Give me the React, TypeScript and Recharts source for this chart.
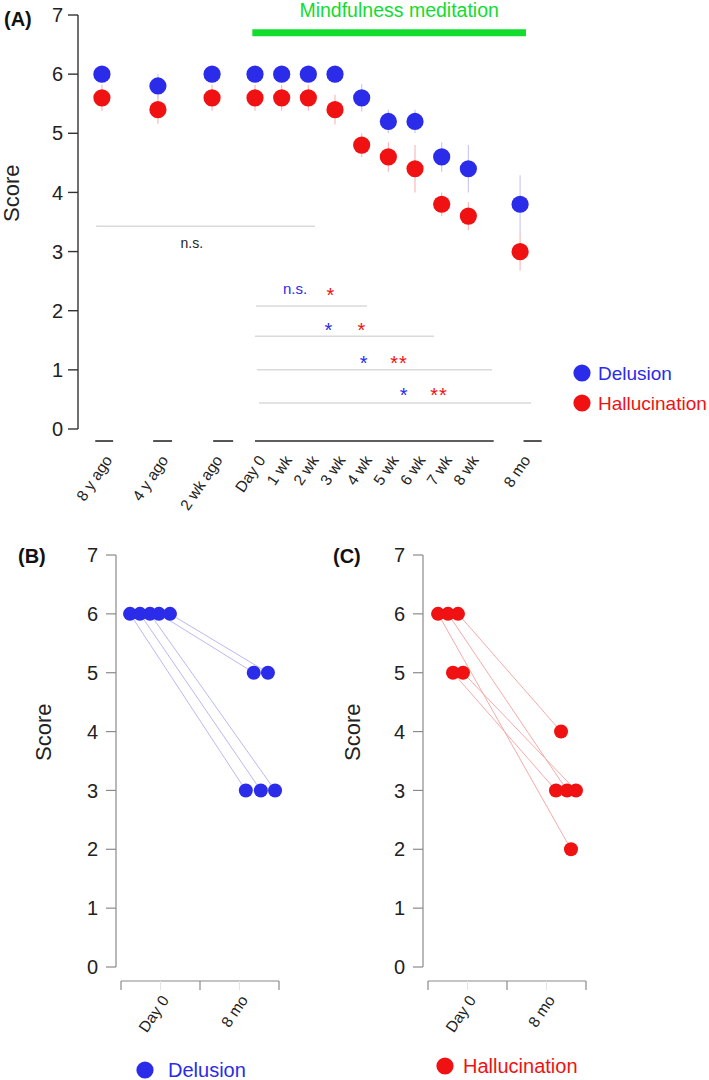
import React from 'react';
import { ScatterChart, Scatter, XAxis, YAxis, ReferenceLine, ErrorBar, Legend } from 'recharts';

const FONT = '"Liberation Sans", Arial, Helvetica, sans-serif';
const BLUE = '#2b2bea';
const RED = '#f01212';
const GREEN = '#12dc2e';
const BLUE_LIGHT = '#cacaf6';
const RED_LIGHT = '#f7bcbc';
const BLUE_LINK = '#b9b9f0';
const RED_LINK = '#f6aaaa';
const SIG_GRAY = '#dadada';
const INK = '#222222';

// ---------- Panel A data ----------
const TIMEPOINTS = ['8 y ago', '4 y ago', '2 wk ago', 'Day 0', '1 wk', '2 wk', '3 wk', '4 wk', '5 wk', '6 wk', '7 wk', '8 wk', '8 mo'];
const DELUSION_MEAN = [6, 5.8, 6, 6, 6, 6, 6, 5.6, 5.2, 5.2, 4.6, 4.4, 3.8];
const DELUSION_SE = [0, 0.2, 0, 0, 0, 0, 0, 0.23, 0.2, 0.2, 0.25, 0.4, 0.49];
const HALLUC_MEAN = [5.6, 5.4, 5.6, 5.6, 5.6, 5.6, 5.4, 4.8, 4.6, 4.4, 3.8, 3.6, 3.0];
const HALLUC_SE = [0.22, 0.24, 0.22, 0.22, 0.22, 0.22, 0.25, 0.2, 0.25, 0.4, 0.2, 0.24, 0.32];
const SCORE_TICKS = [0, 1, 2, 3, 4, 5, 6, 7];
const SERIES_NAMES = ['Delusion', 'Hallucination'];
const INTERVENTION_LABEL = 'Mindfulness meditation';

// significance brackets (Day 0 vs later time points)
const SIG_LEVEL = [2.08, 1.57, 1.0, 0.44];
const SIG_END = [4.2, 6.71, 8.89, 10.35];
const SIG_START = [0.04, 0, 0.07, 0.15];
const SIG_DELUSION = ['n.s.', '*', '*', '*'];
const SIG_HALLUC = ['*', '*', '**', '**'];
const SIG_DEL_X = [1.5, 2.77, 4.09, 5.59];
const SIG_HAL_X = [2.85, 4.01, 5.4, 6.9];
const SIG_TEXT_Y = [2.35, 1.76, 1.2, 0.66];
const PRE_NS = { from: -5.96, to: 2.25, level: 3.43, textX: -2.37, textY: 3.13, text: 'n.s.' };

// layout of the broken time axis (slot units, 1 = one week spacing)
const TIME_SLOTS = [-5.74, -3.64, -1.61, 0, 1, 2, 3, 4, 5, 6, 7, 8, 9.94];
const AXIS_PIECES = [[-5.99, -5.32], [-3.82, -3.11], [-1.57, -0.82], [0, 8.95], [10.07, 10.75]];
const MEDITATION_SPAN = [-0.1, 10.16];
const MEDITATION_LEVEL = 6.7;

// ---------- Panel B / C data (individual patients) ----------
const PAIR_LABELS = ['Day 0', '8 mo'];
const DEL_DAY0 = [6, 6, 6, 6, 6];
const DEL_8MO = [3, 3, 3, 5, 5];
const HAL_DAY0 = [6, 6, 6, 5, 5];
const HAL_8MO = [2, 3, 4, 3, 3];
// horizontal jitter of each patient's dot within its group
const DEL_JIT0 = [0.114, 0.24, 0.367, 0.48, 0.62];
const DEL_JIT8 = [1.58, 1.77, 1.95, 1.68, 1.86];
const HAL_JIT0 = [0.127, 0.253, 0.38, 0.316, 0.443];
const HAL_JIT8 = [1.81, 1.76, 1.684, 1.62, 1.873];

const delusionA = TIMEPOINTS.map((t, i) => ({ x: TIME_SLOTS[i], y: DELUSION_MEAN[i], err: DELUSION_SE[i], t }));
const hallucA = TIMEPOINTS.map((t, i) => ({ x: TIME_SLOTS[i], y: HALLUC_MEAN[i], err: HALLUC_SE[i], t }));

const notesA = [
  { x: PRE_NS.textX, y: PRE_NS.textY, text: PRE_NS.text, color: INK, kind: 'ns', size: 14 },
  ...SIG_DELUSION.map((s, i) => ({ x: SIG_DEL_X[i], y: SIG_TEXT_Y[i], text: s, color: BLUE, kind: s === 'n.s.' ? 'ns' : 'star', size: s === 'n.s.' ? 15 : 20 })),
  ...SIG_HALLUC.map((s, i) => ({ x: SIG_HAL_X[i], y: SIG_TEXT_Y[i], text: s, color: RED, kind: 'star', size: 20 })),
];

const renderDot = (color: string, r: number) => (props: any) => {
  const { cx, cy } = props;
  if (cx == null || cy == null) return <g />;
  return <circle cx={cx} cy={cy} r={r} fill={color} />;
};
const renderNothing = () => <g />;

const renderNote = (props: any) => {
  const d = props.payload ?? props;
  const fs = d.size;
  const k = d.kind === 'star' ? 0.58 : 0.27;
  return (
    <text x={props.cx} y={props.cy + k * fs} textAnchor="middle" fontSize={fs} fill={d.color} fontFamily={FONT} letterSpacing={d.kind === 'star' ? 1 : 0}>
      {d.text}
    </text>
  );
};

const nearestIndex = (arr: number[], v: number) => {
  let best = 0;
  arr.forEach((a, i) => {
    if (Math.abs(a - v) < Math.abs(arr[best] - v)) best = i;
  });
  return best;
};

const rotLabel = (x: number, y: number, text: string, key?: any) => (
  <text key={key} x={x} y={y} transform={`rotate(-56 ${x} ${y})`} textAnchor="end" fontSize={15.5} fill={INK} fontFamily={FONT}>
    {text}
  </text>
);

const renderTickA = (props: any) => {
  const i = nearestIndex(TIME_SLOTS, props.payload.value);
  return rotLabel(props.x + 11, 460, TIMEPOINTS[i]);
};

const PAIR_TICKS = [0.5, 1.5];
const renderTickPair = (props: any) => {
  const i = nearestIndex(PAIR_TICKS, props.payload.value);
  return rotLabel(props.x + 9, 480, PAIR_LABELS[i]);
};

const makeLegend = (names: string[], colors: string[], textX: number, fontSize: number) => () => (
  <svg width={150} height={names.length * 30 + 4} style={{ display: 'block', overflow: 'visible' }}>
    {names.map((n, i) => (
      <g key={n}>
        <circle cx={12} cy={13 + i * 30} r={8.6} fill={colors[i]} />
        <text x={textX} y={13 + i * 30 + 0.36 * fontSize} fontSize={fontSize} fill={colors[i]} fontFamily={FONT}>
          {n}
        </text>
      </g>
    ))}
  </svg>
);

const yAxisCommon = {
  type: 'number' as const,
  dataKey: 'y',
  domain: [0, 7],
  ticks: SCORE_TICKS,
  width: 60,
  tickSize: 10,
  interval: 0 as const,
  tick: { fontSize: 20, fill: INK, fontFamily: FONT },
};

function PanelA() {
  return (
    <ScatterChart width={709} height={520} margin={{ top: 15, right: 149, bottom: 11, left: 18 }} style={{ fontFamily: FONT }}>
      <XAxis type="number" dataKey="x" domain={[-6.637, 11.436]} ticks={TIME_SLOTS} interval={0} axisLine={false} tickLine={false} height={80} tick={renderTickA} />
      <YAxis
        {...yAxisCommon}
        tickMargin={5}
        axisLine={{ stroke: '#333', strokeWidth: 1.4 }}
        tickLine={{ stroke: '#333', strokeWidth: 1.4 }}
        label={{ value: 'Score', angle: -90, position: 'insideLeft', offset: -7, fontSize: 22, fill: INK }}
      />
      {AXIS_PIECES.map((p, i) => (
        <ReferenceLine key={'ax' + i} segment={[{ x: p[0], y: -0.203 }, { x: p[1], y: -0.203 }]} stroke="#2a2a2a" strokeWidth={1.6} ifOverflow="visible" />
      ))}
      <ReferenceLine
        segment={[{ x: MEDITATION_SPAN[0], y: MEDITATION_LEVEL }, { x: MEDITATION_SPAN[1], y: MEDITATION_LEVEL }]}
        stroke={GREEN}
        strokeWidth={7}
        ifOverflow="visible"
        label={{ value: INTERVENTION_LABEL, position: 'top', offset: 16, fill: GREEN, fontSize: 19.5, dx: 10 }}
      />
      <ReferenceLine segment={[{ x: PRE_NS.from, y: PRE_NS.level }, { x: PRE_NS.to, y: PRE_NS.level }]} stroke={SIG_GRAY} strokeWidth={1.5} ifOverflow="visible" />
      {SIG_LEVEL.map((lv, i) => (
        <ReferenceLine key={'sig' + i} segment={[{ x: SIG_START[i], y: lv }, { x: SIG_END[i], y: lv }]} stroke={SIG_GRAY} strokeWidth={1.5} ifOverflow="visible" />
      ))}
      <Scatter name={SERIES_NAMES[0]} data={delusionA} shape={renderDot(BLUE, 8.6)} isAnimationActive={false}>
        <ErrorBar dataKey="err" direction="y" width={0} stroke={BLUE_LIGHT} strokeWidth={1.2} isAnimationActive={false} />
      </Scatter>
      <Scatter name={SERIES_NAMES[1]} data={hallucA} shape={renderDot(RED, 8.6)} isAnimationActive={false}>
        <ErrorBar dataKey="err" direction="y" width={0} stroke={RED_LIGHT} strokeWidth={1.2} isAnimationActive={false} />
      </Scatter>
      <Scatter data={notesA} shape={renderNote} isAnimationActive={false} legendType="none" />
      <Legend
        layout="horizontal"
        align="center"
        verticalAlign="middle"
        content={makeLegend(SERIES_NAMES, [BLUE, RED], 28, 19)}
        wrapperStyle={{ position: 'absolute', left: 570, top: 360, width: 139, height: 64, overflow: 'hidden' }}
      />
    </ScatterChart>
  );
}

function PairPanel(props: {
  day0: number[];
  mo8: number[];
  jit0: number[];
  jit8: number[];
  color: string;
  link: string;
  name: string;
  marginLeft: number;
  marginRight: number;
  width: number;
  scoreOffset: number;
  legendLeft: number;
  legendTop: number;
  legendTextX: number;
}) {
  const { day0, mo8, jit0, jit8, color, link, name } = props;
  const dots = [
    ...day0.map((v, i) => ({ x: jit0[i], y: v })),
    ...mo8.map((v, i) => ({ x: jit8[i], y: v })),
  ];
  const axisY = -0.238;
  const tickY = -0.39;
  return (
    <ScatterChart width={props.width} height={560} margin={{ top: 35, right: props.marginRight, bottom: 13, left: props.marginLeft }} style={{ fontFamily: FONT }}>
      <XAxis type="number" dataKey="x" domain={[-0.0633, 2]} ticks={PAIR_TICKS} interval={0} axisLine={false} tickLine={false} height={100} tick={renderTickPair} />
      <YAxis
        {...yAxisCommon}
        tickMargin={8}
        axisLine={{ stroke: '#8a8a8a', strokeWidth: 1.2 }}
        tickLine={{ stroke: '#8a8a8a', strokeWidth: 1.2 }}
        label={{ value: 'Score', angle: -90, position: 'insideLeft', offset: props.scoreOffset, fontSize: 22, fill: INK }}
      />
      <ReferenceLine segment={[{ x: 0, y: axisY }, { x: 2, y: axisY }]} stroke="#8a8a8a" strokeWidth={1.2} ifOverflow="visible" />
      {[0, 1, 2].map((t) => (
        <ReferenceLine key={'t' + t} segment={[{ x: t, y: axisY }, { x: t, y: tickY }]} stroke="#8a8a8a" strokeWidth={1.2} ifOverflow="visible" />
      ))}
      {PAIR_TICKS.map((t) => (
        <ReferenceLine key={'m' + t} segment={[{ x: t, y: axisY }, { x: t, y: tickY }]} stroke="#e4e4e4" strokeWidth={1} ifOverflow="visible" />
      ))}
      {day0.map((v, i) => (
        <Scatter
          key={'link' + i}
          data={[{ x: jit0[i], y: v }, { x: jit8[i], y: mo8[i] }]}
          line={{ stroke: link, strokeWidth: 1 }}
          shape={renderNothing}
          isAnimationActive={false}
          legendType="none"
        />
      ))}
      <Scatter name={name} data={dots} shape={renderDot(color, 7)} isAnimationActive={false} />
      <Legend
        layout="horizontal"
        align="center"
        verticalAlign="middle"
        content={makeLegend([name], [color], props.legendTextX, 20)}
        wrapperStyle={{ position: 'absolute', left: props.legendLeft, top: props.legendTop, width: 150, height: 34 }}
      />
    </ScatterChart>
  );
}

export default function App() {
  return (
    <div style={{ position: 'absolute', left: 0, top: 0, width: 709, height: 1080, background: '#fff', fontFamily: FONT, overflow: 'hidden' }}>
      <div style={{ position: 'absolute', left: 0, top: 0 }}>
        <PanelA />
      </div>
      <div style={{ position: 'absolute', left: 0, top: 520 }}>
        <PairPanel
          day0={DEL_DAY0}
          mo8={DEL_8MO}
          jit0={DEL_JIT0}
          jit8={DEL_JIT8}
          color={BLUE}
          link={BLUE_LINK}
          name={SERIES_NAMES[0]}
          width={330}
          marginLeft={56}
          marginRight={51}
          scoreOffset={-13}
          legendLeft={133}
          legendTop={537}
          legendTextX={35}
        />
      </div>
      <div style={{ position: 'absolute', left: 330, top: 520 }}>
        <PairPanel
          day0={HAL_DAY0}
          mo8={HAL_8MO}
          jit0={HAL_JIT0}
          jit8={HAL_JIT8}
          color={RED}
          link={RED_LINK}
          name={SERIES_NAMES[1]}
          width={379}
          marginLeft={33}
          marginRight={123}
          scoreOffset={-11}
          legendLeft={103}
          legendTop={533}
          legendTextX={30}
        />
      </div>
      <svg width={709} height={1080} style={{ position: 'absolute', left: 0, top: 0, pointerEvents: 'none' }}>
        <text x={4} y={26} fontSize={20} fontWeight="bold" fill="#111" fontFamily={FONT}>(A)</text>
        <text x={18} y={563} fontSize={20} fontWeight="bold" fill="#111" fontFamily={FONT}>(B)</text>
        <text x={333} y={563} fontSize={20} fontWeight="bold" fill="#111" fontFamily={FONT}>(C)</text>
      </svg>
    </div>
  );
}
